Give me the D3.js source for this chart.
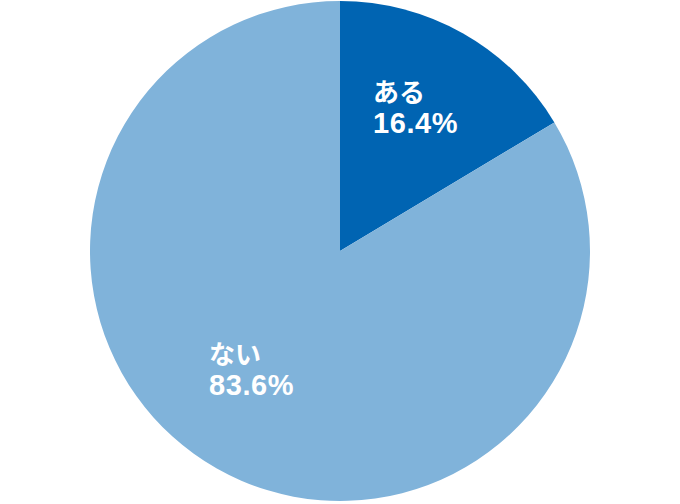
<!DOCTYPE html>
<html>
<head>
<meta charset="utf-8">
<script src="https://cdn.jsdelivr.net/npm/d3@7"></script>
<style>
  body { margin: 0; background: #fff; }
  .pie-label { font-family: "Noto Sans CJK JP", "Liberation Sans", sans-serif; font-weight: bold; fill: #fff; font-size: 26px; }
  .pie-value { font-family: "Liberation Sans", Arial, sans-serif; font-size: 29px; letter-spacing: 0.6px; }
</style>
</head>
<body>
<div id="chart"></div>
<script>
// data
const categories = ['ある', 'ない'];
const values = [16.4, 83.6];
const colors = ['#0064b2', '#80b3da'];

const width = 680, height = 504;
const cx = 340, cy = 251, radius = 250;

const svg = d3.select('#chart').append('svg')
    .attr('width', width)
    .attr('height', height);

const g = svg.append('g')
    .attr('transform', `translate(${cx},${cy})`);

const pie = d3.pie().sort(null).value(d => d.value);
const arc = d3.arc().innerRadius(0).outerRadius(radius);

const data = categories.map((c, i) => ({name: c, value: values[i], color: colors[i]}));
const arcs = pie(data);

g.selectAll('path')
    .data(arcs)
  .join('path')
    .attr('d', arc)
    .attr('fill', d => d.data.color);

// label anchor (left edge, first baseline) relative to the centre
const labelPos = [[33, -149], [-131, 113]];

const labels = g.selectAll('text.pie-label')
    .data(arcs)
  .join('text')
    .attr('class', 'pie-label')
    .attr('transform', (d, i) => `translate(${labelPos[i][0]},${labelPos[i][1]})`);

labels.append('tspan')
    .attr('x', 0)
    .attr('y', 0)
    .text(d => d.data.name);
labels.append('tspan')
    .attr('class', 'pie-value')
    .attr('x', 0)
    .attr('dy', 31)
    .text(d => d3.format('.1f')(d.data.value) + '%');
</script>
</body>
</html>
